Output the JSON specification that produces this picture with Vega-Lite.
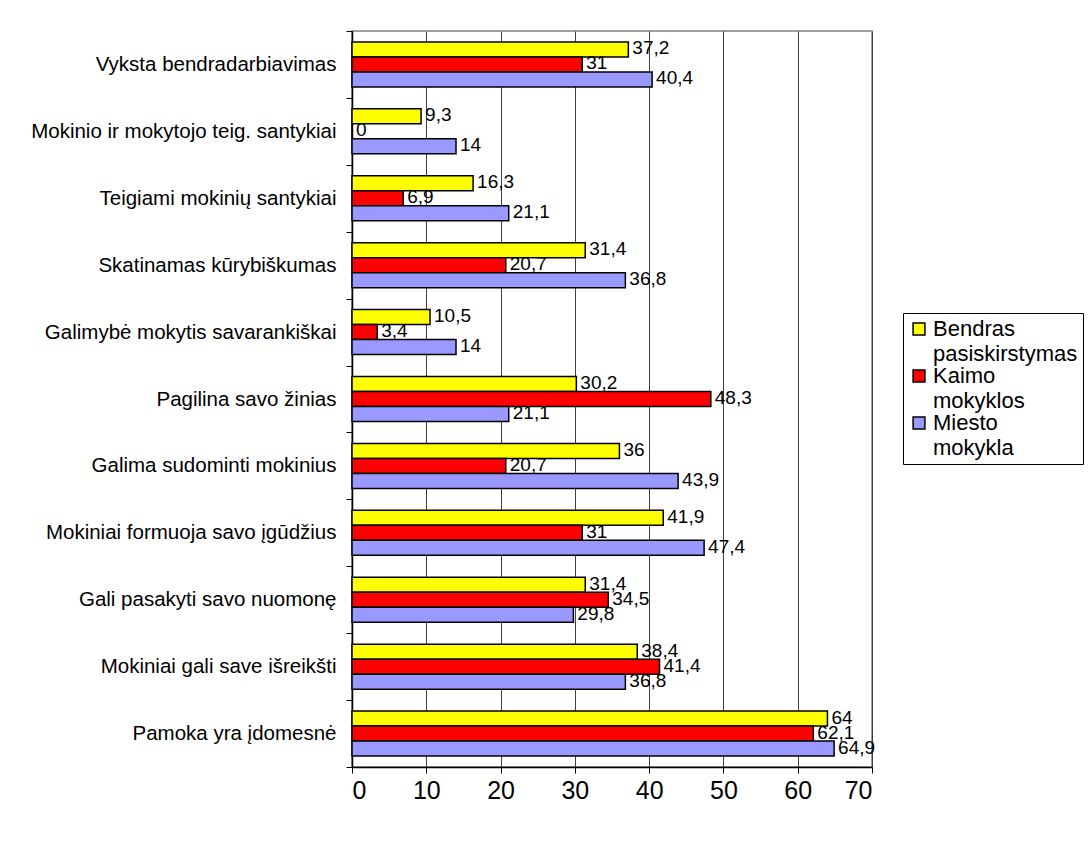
{
  "$schema": "https://vega.github.io/schema/vega-lite/v6.json",
  "width": 520,
  "height": 736,
  "autosize": {"type": "none"},
  "padding": {"left": 352, "top": 31, "right": 216, "bottom": 74},
  "background": "white",
  "config": {
    "font": "Liberation Sans",
    "view": {"stroke": "#808080", "strokeWidth": 1.5},
    "style": {"guide-label": {"lineHeight": 25}},
    "locale": {"number": {"decimal": ",", "thousands": " ", "grouping": [3], "currency": ["", " €"]}}
  },
  "data": {
    "values": [
      {"cat": "Vyksta bendradarbiavimas", "series": "Bendras pasiskirstymas", "value": 37.2},
      {"cat": "Vyksta bendradarbiavimas", "series": "Kaimo mokyklos", "value": 31},
      {"cat": "Vyksta bendradarbiavimas", "series": "Miesto mokykla", "value": 40.4},
      {"cat": "Mokinio ir mokytojo teig. santykiai", "series": "Bendras pasiskirstymas", "value": 9.3},
      {"cat": "Mokinio ir mokytojo teig. santykiai", "series": "Kaimo mokyklos", "value": 0},
      {"cat": "Mokinio ir mokytojo teig. santykiai", "series": "Miesto mokykla", "value": 14},
      {"cat": "Teigiami mokinių santykiai", "series": "Bendras pasiskirstymas", "value": 16.3},
      {"cat": "Teigiami mokinių santykiai", "series": "Kaimo mokyklos", "value": 6.9},
      {"cat": "Teigiami mokinių santykiai", "series": "Miesto mokykla", "value": 21.1},
      {"cat": "Skatinamas kūrybiškumas", "series": "Bendras pasiskirstymas", "value": 31.4},
      {"cat": "Skatinamas kūrybiškumas", "series": "Kaimo mokyklos", "value": 20.7},
      {"cat": "Skatinamas kūrybiškumas", "series": "Miesto mokykla", "value": 36.8},
      {"cat": "Galimybė mokytis savarankiškai", "series": "Bendras pasiskirstymas", "value": 10.5},
      {"cat": "Galimybė mokytis savarankiškai", "series": "Kaimo mokyklos", "value": 3.4},
      {"cat": "Galimybė mokytis savarankiškai", "series": "Miesto mokykla", "value": 14},
      {"cat": "Pagilina savo žinias", "series": "Bendras pasiskirstymas", "value": 30.2},
      {"cat": "Pagilina savo žinias", "series": "Kaimo mokyklos", "value": 48.3},
      {"cat": "Pagilina savo žinias", "series": "Miesto mokykla", "value": 21.1},
      {"cat": "Galima sudominti mokinius", "series": "Bendras pasiskirstymas", "value": 36},
      {"cat": "Galima sudominti mokinius", "series": "Kaimo mokyklos", "value": 20.7},
      {"cat": "Galima sudominti mokinius", "series": "Miesto mokykla", "value": 43.9},
      {"cat": "Mokiniai formuoja savo įgūdžius", "series": "Bendras pasiskirstymas", "value": 41.9},
      {"cat": "Mokiniai formuoja savo įgūdžius", "series": "Kaimo mokyklos", "value": 31},
      {"cat": "Mokiniai formuoja savo įgūdžius", "series": "Miesto mokykla", "value": 47.4},
      {"cat": "Gali pasakyti savo nuomonę", "series": "Bendras pasiskirstymas", "value": 31.4},
      {"cat": "Gali pasakyti savo nuomonę", "series": "Kaimo mokyklos", "value": 34.5},
      {"cat": "Gali pasakyti savo nuomonę", "series": "Miesto mokykla", "value": 29.8},
      {"cat": "Mokiniai gali save išreikšti", "series": "Bendras pasiskirstymas", "value": 38.4},
      {"cat": "Mokiniai gali save išreikšti", "series": "Kaimo mokyklos", "value": 41.4},
      {"cat": "Mokiniai gali save išreikšti", "series": "Miesto mokykla", "value": 36.8},
      {"cat": "Pamoka yra įdomesnė", "series": "Bendras pasiskirstymas", "value": 64},
      {"cat": "Pamoka yra įdomesnė", "series": "Kaimo mokyklos", "value": 62.1},
      {"cat": "Pamoka yra įdomesnė", "series": "Miesto mokykla", "value": 64.9}
    ]
  },
  "encoding": {
    "y": {
      "field": "cat", "type": "nominal", "sort": null,
      "scale": {"paddingInner": 0, "paddingOuter": 0},
      "axis": {
        "title": null, "tickBand": "extent", "tickSize": 6, "tickColor": "black",
        "domainColor": "black", "domainWidth": 1.5, "labelFontSize": 20.5, "labelColor": "black",
        "labelPadding": 10, "labelLimit": 400, "grid": false
      }
    },
    "yOffset": {
      "field": "series", "type": "nominal",
      "sort": ["Bendras pasiskirstymas", "Kaimo mokyklos", "Miesto mokykla"],
      "scale": {"paddingInner": 0, "paddingOuter": 0.73}
    },
    "x": {
      "field": "value", "type": "quantitative",
      "scale": {"domain": [0, 70], "nice": false},
      "axis": {
        "title": null, "values": [0, 10, 20, 30, 40, 50, 60, 70], "tickSize": 6, "tickColor": "black",
        "domainColor": "black", "domainWidth": 1.5, "labelFontSize": 25, "labelColor": "black",
        "labelPadding": 5, "grid": true, "gridColor": "#404040", "gridOpacity": 1, "gridWidth": 1
      }
    }
  },
  "layer": [
    {
      "mark": {"type": "bar", "stroke": "black", "strokeWidth": 1.5},
      "encoding": {
        "color": {
          "field": "series", "type": "nominal",
          "scale": {
            "domain": ["Bendras pasiskirstymas", "Kaimo mokyklos", "Miesto mokykla"],
            "range": ["#FFFF00", "#FF0000", "#9999FF"]
          },
          "legend": {
            "title": null, "orient": "none", "legendX": 551, "legendY": 282,
            "symbolType": "square", "symbolSize": 140, "symbolStrokeColor": "black",
            "symbolStrokeWidth": 1.5, "labelFontSize": 22, "labelColor": "black",
            "labelExpr": "split(datum.label, ' ')", "labelLimit": 300, "labelOffset": 3,
            "strokeColor": "black", "fillColor": "white", "padding": 5, "rowPadding": 0,
            "labelBaseline": "middle"
          }
        }
      }
    },
    {
      "mark": {"type": "text", "align": "left", "baseline": "middle", "dx": 4, "dy": -1, "fontSize": 19, "color": "black"},
      "encoding": {
        "text": {"field": "value", "type": "quantitative", "format": ".1~f"}
      }
    }
  ]
}
